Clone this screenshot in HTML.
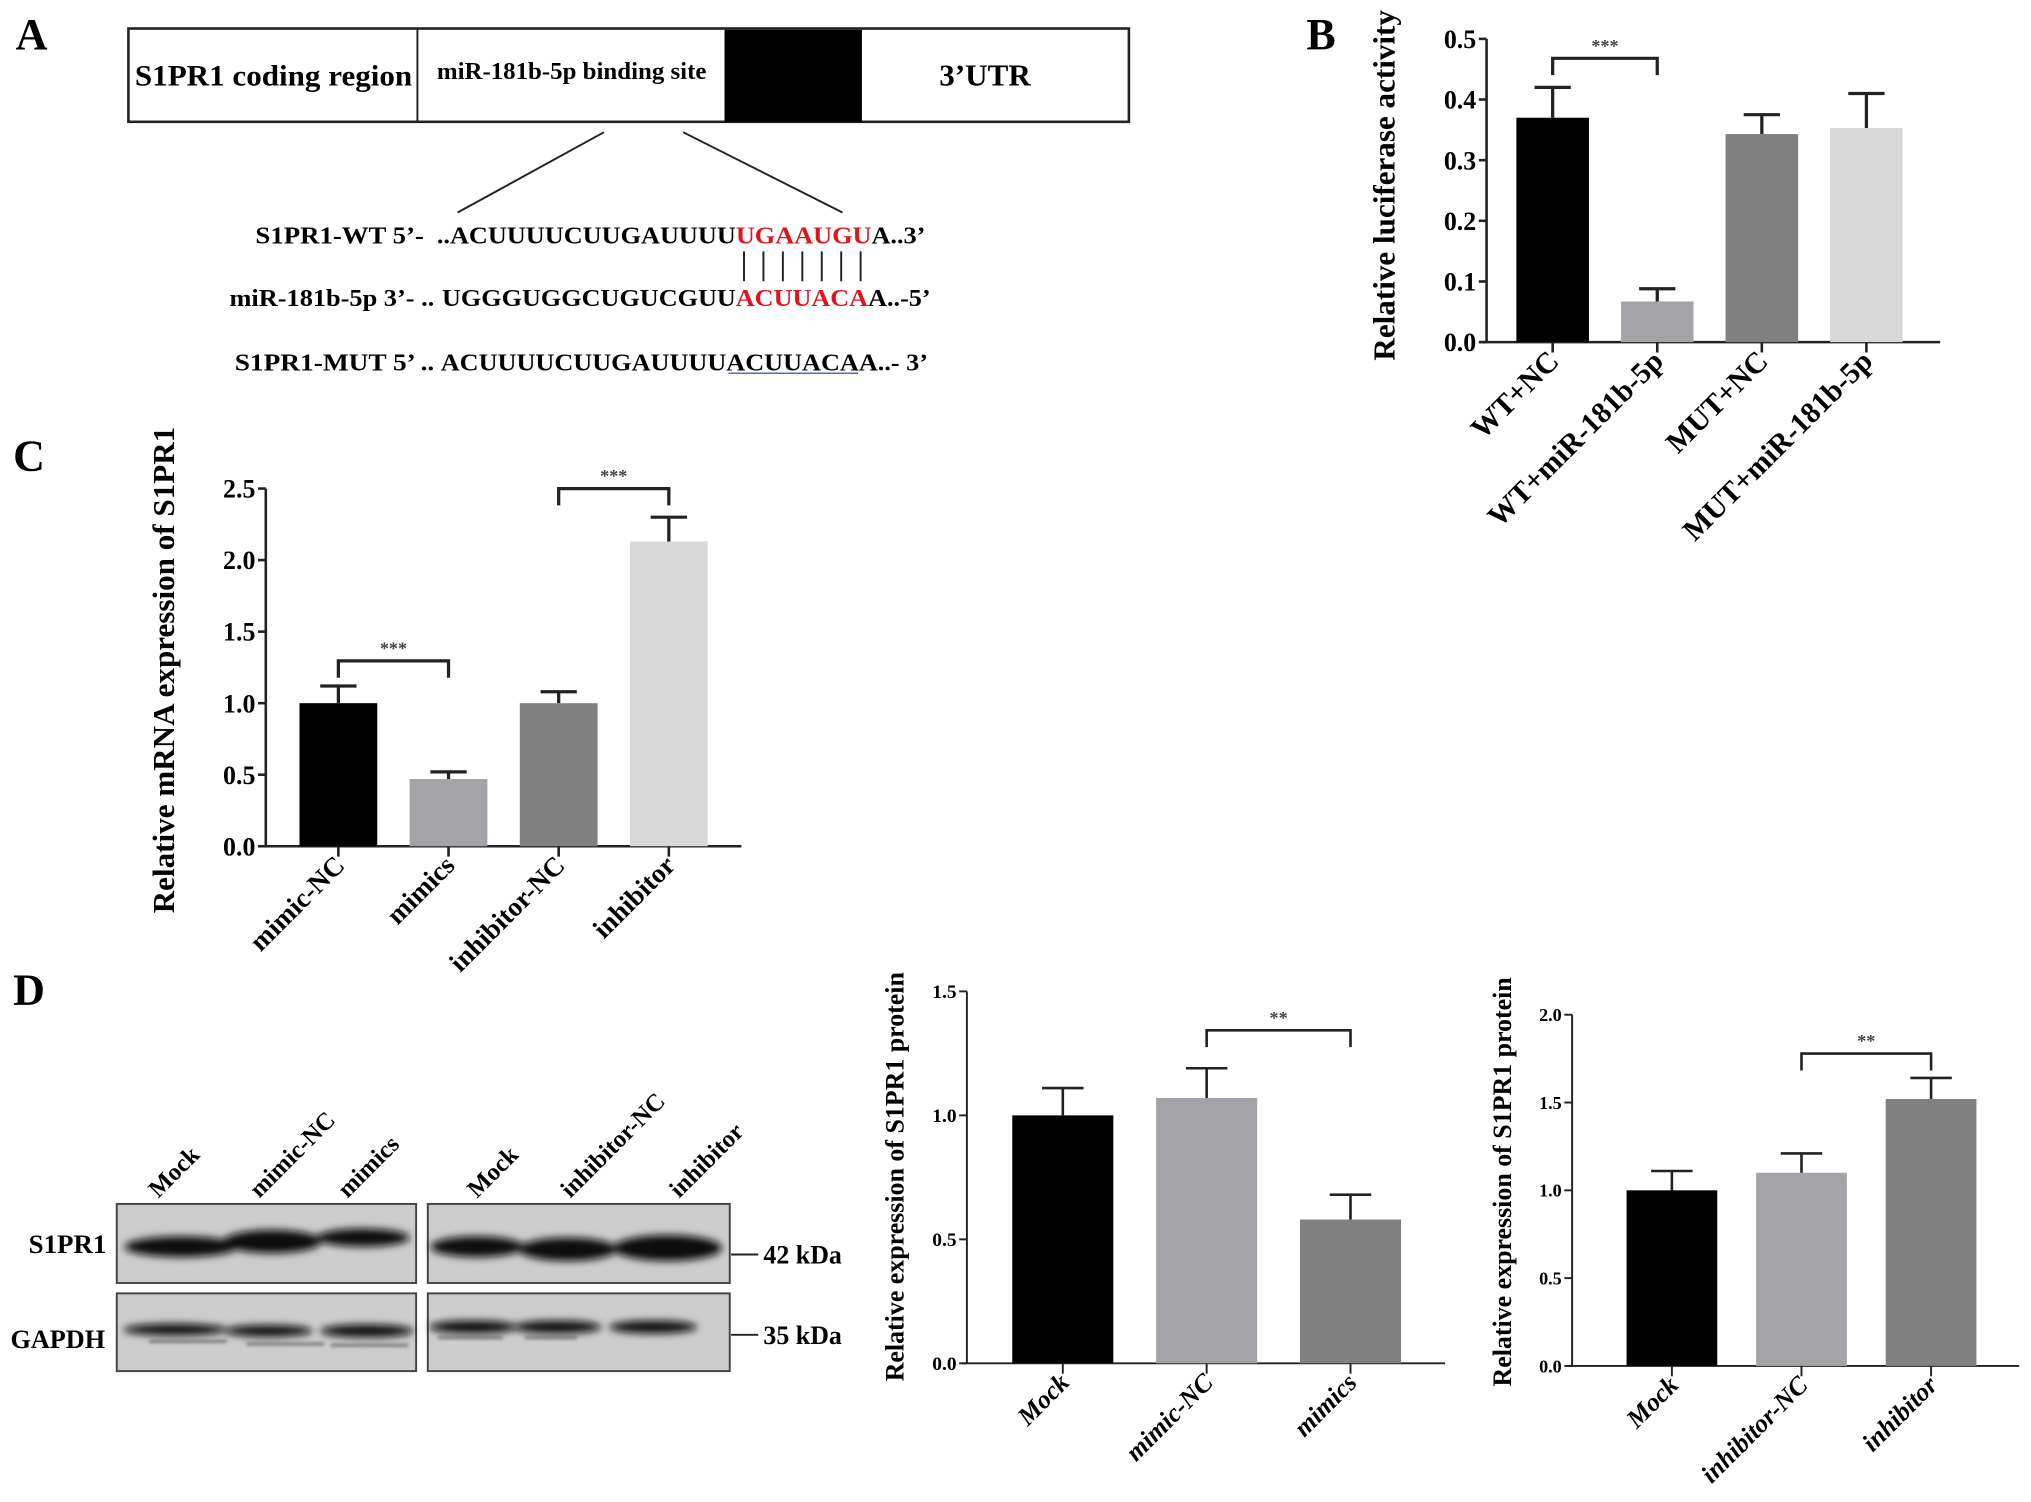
<!DOCTYPE html>
<html><head><meta charset="utf-8"><style>
html,body{margin:0;padding:0;background:#fff;}
svg{display:block;font-family:"Liberation Serif",serif;font-weight:bold;}
</style></head><body>
<svg id="fig" width="2031" height="1502" viewBox="0 0 1567 1159" xmlns="http://www.w3.org/2000/svg">
<defs><filter id="blur" x="-20%" y="-50%" width="140%" height="200%"><feGaussianBlur stdDeviation="3"/></filter>
<filter id="blur2" x="-20%" y="-50%" width="140%" height="200%"><feGaussianBlur stdDeviation="1.5"/></filter></defs>
<g>
<text x="12" y="38" font-size="34">A</text>
<rect x="99" y="22" width="772" height="72" fill="#fff" stroke="#222" stroke-width="2"/>
<line x1="322" y1="22" x2="322" y2="94" stroke="#222" stroke-width="1.5"/>
<rect x="559" y="23" width="106" height="71" fill="#000"/>
<text x="211" y="66" font-size="23" text-anchor="middle" textLength="214" lengthAdjust="spacingAndGlyphs">S1PR1 coding region</text>
<text x="441" y="61" font-size="19" text-anchor="middle" textLength="208" lengthAdjust="spacingAndGlyphs">miR-181b-5p binding site</text>
<text x="760" y="66" font-size="24" text-anchor="middle">3’UTR</text>
<line x1="466" y1="102" x2="353" y2="164" stroke="#222" stroke-width="1.5"/>
<line x1="527" y1="102" x2="650" y2="164" stroke="#222" stroke-width="1.5"/>
<text x="197" y="188" font-size="19" textLength="130" lengthAdjust="spacingAndGlyphs">S1PR1-WT 5’-</text>
<text x="337" y="188" font-size="19" textLength="377" lengthAdjust="spacingAndGlyphs">..ACUUUUCUUGAUUUU<tspan fill="#e0141c">UGAAUGU</tspan>A..3’</text>
<g stroke="#222" stroke-width="1.5">
<line x1="574" y1="194" x2="574" y2="217"/><line x1="589" y1="194" x2="589" y2="217"/><line x1="604" y1="194" x2="604" y2="217"/><line x1="619" y1="194" x2="619" y2="217"/><line x1="634" y1="194" x2="634" y2="217"/><line x1="649" y1="194" x2="649" y2="217"/><line x1="664" y1="194" x2="664" y2="217"/></g>
<text x="177" y="236" font-size="19" textLength="158" lengthAdjust="spacingAndGlyphs">miR-181b-5p 3’- ..</text>
<text x="341" y="236" font-size="19" textLength="377" lengthAdjust="spacingAndGlyphs">UGGGUGGCUGUCGUU<tspan fill="#e0141c">ACUUACA</tspan>A..-5’</text>
<text x="181" y="286" font-size="19" textLength="154" lengthAdjust="spacingAndGlyphs">S1PR1-MUT 5’ ..</text>
<text x="340" y="286" font-size="19" textLength="376" lengthAdjust="spacingAndGlyphs">ACUUUUCUUGAUUUUACUUACAA..- 3’</text>
<line x1="562" y1="288" x2="662" y2="288" stroke="#4a6fc9" stroke-width="1.2"/>
</g>
<text x="1008" y="38" font-size="34">B</text>
<text x="10" y="363" font-size="34">C</text>
<text x="10" y="775" font-size="34">D</text>
<g>
<rect x="90" y="929" width="231" height="61" fill="#cdcdcd" stroke="#444" stroke-width="1.5"/>
<rect x="330" y="929" width="233" height="61" fill="#cdcdcd" stroke="#444" stroke-width="1.5"/>
<rect x="90" y="998" width="231" height="60" fill="#cdcdcd" stroke="#444" stroke-width="1.5"/>
<rect x="330" y="998" width="233" height="60" fill="#cdcdcd" stroke="#444" stroke-width="1.5"/>
<g fill="#111" filter="url(#blur)">
<ellipse cx="140" cy="962" rx="44" ry="8"/><ellipse cx="210" cy="958" rx="38" ry="9"/><ellipse cx="280" cy="955" rx="36" ry="7"/>
<ellipse cx="368" cy="962" rx="36" ry="8"/><ellipse cx="438" cy="964" rx="38" ry="9"/><ellipse cx="515" cy="963" rx="42" ry="10"/>
<ellipse cx="135" cy="1026" rx="40" ry="4.5"/><ellipse cx="207" cy="1027" rx="34" ry="4.5"/><ellipse cx="283" cy="1027" rx="36" ry="5"/>
<ellipse cx="365" cy="1024" rx="34" ry="5"/><ellipse cx="430" cy="1024" rx="34" ry="5"/><ellipse cx="504" cy="1024" rx="34" ry="5"/>
</g>
<g fill="#666" filter="url(#blur2)"><rect x="115" y="1034" width="60" height="2"/><rect x="190" y="1036" width="60" height="2"/><rect x="255" y="1037" width="60" height="2"/><rect x="338" y="1031" width="50" height="2"/><rect x="405" y="1031" width="40" height="2"/></g>
<text x="82" y="967" font-size="20" text-anchor="end" textLength="60" lengthAdjust="spacingAndGlyphs">S1PR1</text>
<text x="81" y="1040" font-size="20" text-anchor="end" textLength="73" lengthAdjust="spacingAndGlyphs">GAPDH</text>
<line x1="564" y1="968" x2="585" y2="968" stroke="#222" stroke-width="1.5"/>
<text x="589" y="975" font-size="20">42 kDa</text>
<line x1="564" y1="1030" x2="585" y2="1030" stroke="#222" stroke-width="1.5"/>
<text x="589" y="1037" font-size="20">35 kDa</text>
<text transform="translate(122,925) rotate(-45)" font-size="19">Mock</text>
<text transform="translate(200,925) rotate(-45)" font-size="19">mimic-NC</text>
<text transform="translate(268,925) rotate(-45)" font-size="19">mimics</text>
<text transform="translate(368,925) rotate(-45)" font-size="19">Mock</text>
<text transform="translate(440,925) rotate(-45)" font-size="19">inhibitor-NC</text>
<text transform="translate(524,925) rotate(-45)" font-size="19">inhibitor</text>
</g>
</svg>
<script>
// Panel B
const bCats = ["WT+NC","WT+miR-181b-5p","MUT+NC","MUT+miR-181b-5p"];
const bVals = [0.37,0.067,0.343,0.353];
const bErrs = [0.05,0.021,0.032,0.057];
const bTicks = ["0.0","0.1","0.2","0.3","0.4","0.5"];
// Panel C
const cCats = ["mimic-NC","mimics","inhibitor-NC","inhibitor"];
const cVals = [1.0,0.47,1.0,2.13];
const cErrs = [0.12,0.05,0.08,0.17];
const cTicks = ["0.0","0.5","1.0","1.5","2.0","2.5"];
// Panel D1
const d1Cats = ["Mock","mimic-NC","mimics"];
const d1Vals = [1.0,1.07,0.58];
const d1Errs = [0.11,0.12,0.1];
const d1Ticks = ["0.0","0.5","1.0","1.5"];
// Panel D2
const d2Cats = ["Mock","inhibitor-NC","inhibitor"];
const d2Vals = [1.0,1.1,1.52];
const d2Errs = [0.11,0.11,0.12];
const d2Ticks = ["0.0","0.5","1.0","1.5","2.0"];

const NS="http://www.w3.org/2000/svg";
const svg=document.getElementById('fig');
function mk(tag,attrs,parent){const e=document.createElementNS(NS,tag);for(const k in attrs)e.setAttribute(k,attrs[k]);(parent||svg).appendChild(e);return e;}

function chart(o){
  const g=mk('g',{});
  
  
  const ymax=parseFloat(o.ticks[o.ticks.length-1]);
  const y=v=>o.y0-(v/ymax)*(o.y0-o.yTop);
  const x=i=>o.x0+i*o.step;
  const ax=mk('line',{x1:o.axX,y1:o.yTop,x2:o.axX,y2:o.y0,stroke:'#222','stroke-width':o.lw},g);
  
  
  const xa=mk('line',{x1:o.axX-4,y1:o.y0,x2:o.xEnd,y2:o.y0,stroke:'#222','stroke-width':o.lw},g);
  
  
  o.ticks.forEach(t=>{
    const yy=y(parseFloat(t));
    mk('line',{x1:o.axX-6,y1:yy,x2:o.axX,y2:yy,stroke:'#222','stroke-width':o.lw},g);
    const tx=mk('text',{x:o.axX-8,y:yy+o.tfs*0.35,'font-size':o.tfs,'text-anchor':'end'},g);
    tx.textContent=t;
    
    
  });
  o.vals.forEach((v,i)=>{
    const cx=x(i);
    const r=mk('rect',{x:cx-o.bw/2,y:y(v),width:o.bw,height:o.y0-y(v),fill:o.colors[i]},g);
    
    
    const top=y(v+o.errs[i]);
    const eb=mk('path',{d:`M${cx},${y(v)}V${top}M${cx-o.cap},${top}H${cx+o.cap}`,stroke:'#222','stroke-width':o.lw+0.5,fill:'none'},g);
    
    
    mk('line',{x1:cx,y1:o.y0,x2:cx,y2:o.y0+8,stroke:'#222','stroke-width':o.lw},g);
    const lt=mk('text',{transform:`translate(${cx+6},${o.y0+16}) rotate(-45)`,'font-size':o.xfs,'text-anchor':'end','font-style':o.italic?'italic':'normal'},g);
    lt.textContent=o.cats[i];
    
    
  });
  o.brackets.forEach(b=>{
    const x1=x(b[0]),x2=x(b[1]);
    const bp=mk('path',{d:`M${x1},${b[2]+13}V${b[2]}H${x2}V${b[2]+13}`,stroke:'#222','stroke-width':o.lw+0.5,fill:'none'},g);
    
    
    const st=mk('text',{x:(x1+x2)/2,y:b[2]-5,'font-size':14,'text-anchor':'middle',fill:'#444'},g);
    st.textContent=b[3];
    
    
  });
  const yt=mk('text',{transform:`translate(${o.titleX},${o.titleY}) rotate(-90)`,'font-size':o.titleFs,'text-anchor':'middle'},g);
  yt.textContent=o.title;
  
  
}
chart({name:'luciferase-chart',cats:bCats,vals:bVals,errs:bErrs,ticks:bTicks,axX:1147,yTop:30,y0:264,xEnd:1497,x0:1198,step:80.7,bw:56,cap:14,lw:2,tfs:20,xfs:23,
  colors:['#000','#a3a3a8','#808080','#d8d8d8'],brackets:[[0,1,45,'***']],title:'Relative luciferase activity',titleX:1076,titleY:143,titleFs:24});
chart({name:'mrna-expression-chart',cats:cCats,vals:cVals,errs:cErrs,ticks:cTicks,axX:205,yTop:377,y0:653,xEnd:572,x0:261,step:85,bw:60,cap:14,lw:2,tfs:20,xfs:21,
  colors:['#000','#a3a3a8','#808080','#d8d8d8'],brackets:[[0,1,510,'***'],[2,3,377,'***']],title:'Relative mRNA expression of S1PR1',titleX:134,titleY:517,titleFs:24});
chart({name:'protein-mimic-chart',cats:d1Cats,vals:d1Vals,errs:d1Errs,ticks:d1Ticks,axX:746,yTop:765,y0:1052,xEnd:1115,x0:820,step:111,bw:78,cap:16,lw:1.5,tfs:15,xfs:20,italic:true,
  colors:['#000','#a3a3a8','#808080'],brackets:[[1,2,795,'**']],title:'Relative expression of S1PR1 protein',titleX:697,titleY:908,titleFs:20});
chart({name:'protein-inhibitor-chart',cats:d2Cats,vals:d2Vals,errs:d2Errs,ticks:d2Ticks,axX:1213,yTop:783,y0:1054,xEnd:1558,x0:1290,step:100,bw:70,cap:16,lw:1.5,tfs:14,xfs:20,italic:true,
  colors:['#000','#a3a3a8','#808080'],brackets:[[1,2,813,'**']],title:'Relative expression of S1PR1 protein',titleX:1166,titleY:912,titleFs:20});
</script>
</body></html>
